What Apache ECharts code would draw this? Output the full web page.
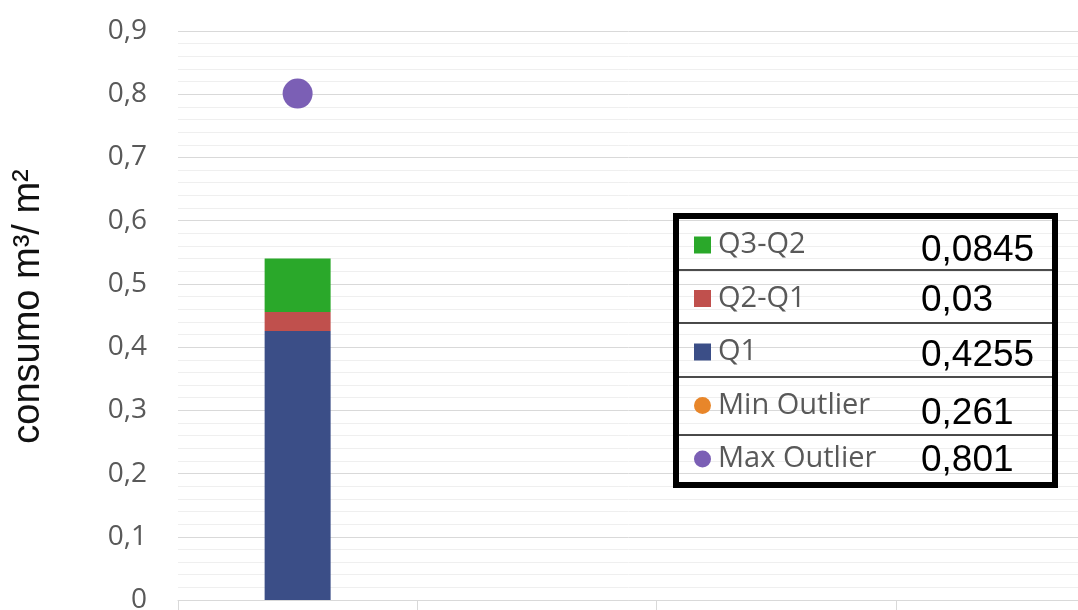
<!DOCTYPE html>
<html>
<head>
<meta charset="utf-8">
<script src="https://cdn.jsdelivr.net/npm/echarts@6/dist/echarts.min.js"></script>
<style>
html,body{margin:0;padding:0;background:#fff;}
#chart{width:1078px;height:610px;}
</style>
</head>
<body>
<div id="chart"></div>
<script>
var categories = ['', '', '', ''];
var q1 = [0.4255, null, null, null];
var q2q1 = [0.03, null, null, null];
var q3q2 = [0.0845, null, null, null];
var minOutlier = [0.261, null, null, null];
var maxOutlier = [0.801, null, null, null];
var seriesNames = ['Q3-Q2', 'Q2-Q1', 'Q1', 'Min Outlier', 'Max Outlier'];
var tableValues = [q3q2[0], q2q1[0], q1[0], minOutlier[0], maxOutlier[0]];

function fmt(v) { return String(v).replace('.', ','); }

var chart = echarts.init(document.getElementById('chart'));

var rowBaselines = [262, 312, 367, 425, 472];
var graphics = [
  { type: 'rect', z: 50, shape: { x: 676, y: 216, width: 379, height: 269 },
    style: { fill: 'rgba(0,0,0,0)', stroke: '#000', lineWidth: 6 } }
];
[270, 323, 377, 435].forEach(function (y) {
  graphics.push({ type: 'line', z: 50, shape: { x1: 679, y1: y, x2: 1052, y2: y },
    style: { stroke: '#111', lineWidth: 1.5 } });
});
tableValues.forEach(function (v, i) {
  graphics.push({ type: 'text', z: 50, x: 921, y: rowBaselines[i] - 11,
    style: { text: fmt(v), fill: '#000', font: '37px "Liberation Sans", Arial, sans-serif',
      align: 'left', verticalAlign: 'middle' } });
});

var option = {
  animation: false,
  backgroundColor: '#fff',
  grid: { left: 178, right: -57, top: 31, bottom: 10, containLabel: false, outerBoundsMode: 'none' },
  legend: {
    orient: 'vertical', left: 689, top: 225,
    itemWidth: 17, itemHeight: 17, itemGap: 23.5,
    textStyle: { fontSize: 29, lineHeight: 30, color: '#595959', fontFamily: '"Open Sans", sans-serif', padding: [0, 0, 0, 2] },
    data: [
      { name: seriesNames[0], icon: 'rect' },
      { name: seriesNames[1], icon: 'rect' },
      { name: seriesNames[2], icon: 'rect' },
      { name: seriesNames[3], icon: 'circle' },
      { name: seriesNames[4], icon: 'circle' }
    ]
  },
  xAxis: {
    type: 'category', data: categories, boundaryGap: true,
    axisLine: { show: true, lineStyle: { color: '#d9d9d9', width: 1 } },
    axisTick: { show: true, length: 14, lineStyle: { color: '#d9d9d9' } },
    axisLabel: { show: false },
    splitLine: { show: false }
  },
  yAxis: {
    type: 'value', min: 0, max: 0.9, interval: 0.1,
    name: 'consumo m³/ m²', nameLocation: 'middle', nameGap: 130, nameRotate: 90,
    nameTextStyle: { fontSize: 38, color: '#111', fontFamily: '"Liberation Sans", Arial, sans-serif',
      padding: [0, 0, 0, 18] },
    axisLine: { show: false }, axisTick: { show: false },
    axisLabel: { fontSize: 28, color: '#595959', margin: 31, fontFamily: '"Open Sans", sans-serif',
      formatter: function (v) { return v === 0 ? '0' : v.toFixed(1).replace('.', ','); } },
    splitLine: { show: true, lineStyle: { color: '#d9d9d9', width: 1 } },
    minorTick: { show: false, splitNumber: 5 },
    minorSplitLine: { show: true, lineStyle: { color: '#efefef', width: 1 } }
  },
  series: [
    { name: seriesNames[3], type: 'scatter', data: minOutlier, symbolSize: 30, z: 1,
      itemStyle: { color: '#E8862A', opacity: 1 } },
    { name: seriesNames[2], type: 'bar', stack: 'box', data: q1, barWidth: 66, z: 2,
      itemStyle: { color: '#3B4E87' } },
    { name: seriesNames[1], type: 'bar', stack: 'box', data: q2q1, barWidth: 66, z: 2,
      itemStyle: { color: '#C0504D' } },
    { name: seriesNames[0], type: 'bar', stack: 'box', data: q3q2, barWidth: 66, z: 2,
      itemStyle: { color: '#2AA82A' } },
    { name: seriesNames[4], type: 'scatter', data: maxOutlier, symbolSize: 30, z: 3,
      itemStyle: { color: '#7B5FB5', opacity: 1 } }
  ],
  graphic: graphics
};
chart.setOption(option);
</script>
</body>
</html>
